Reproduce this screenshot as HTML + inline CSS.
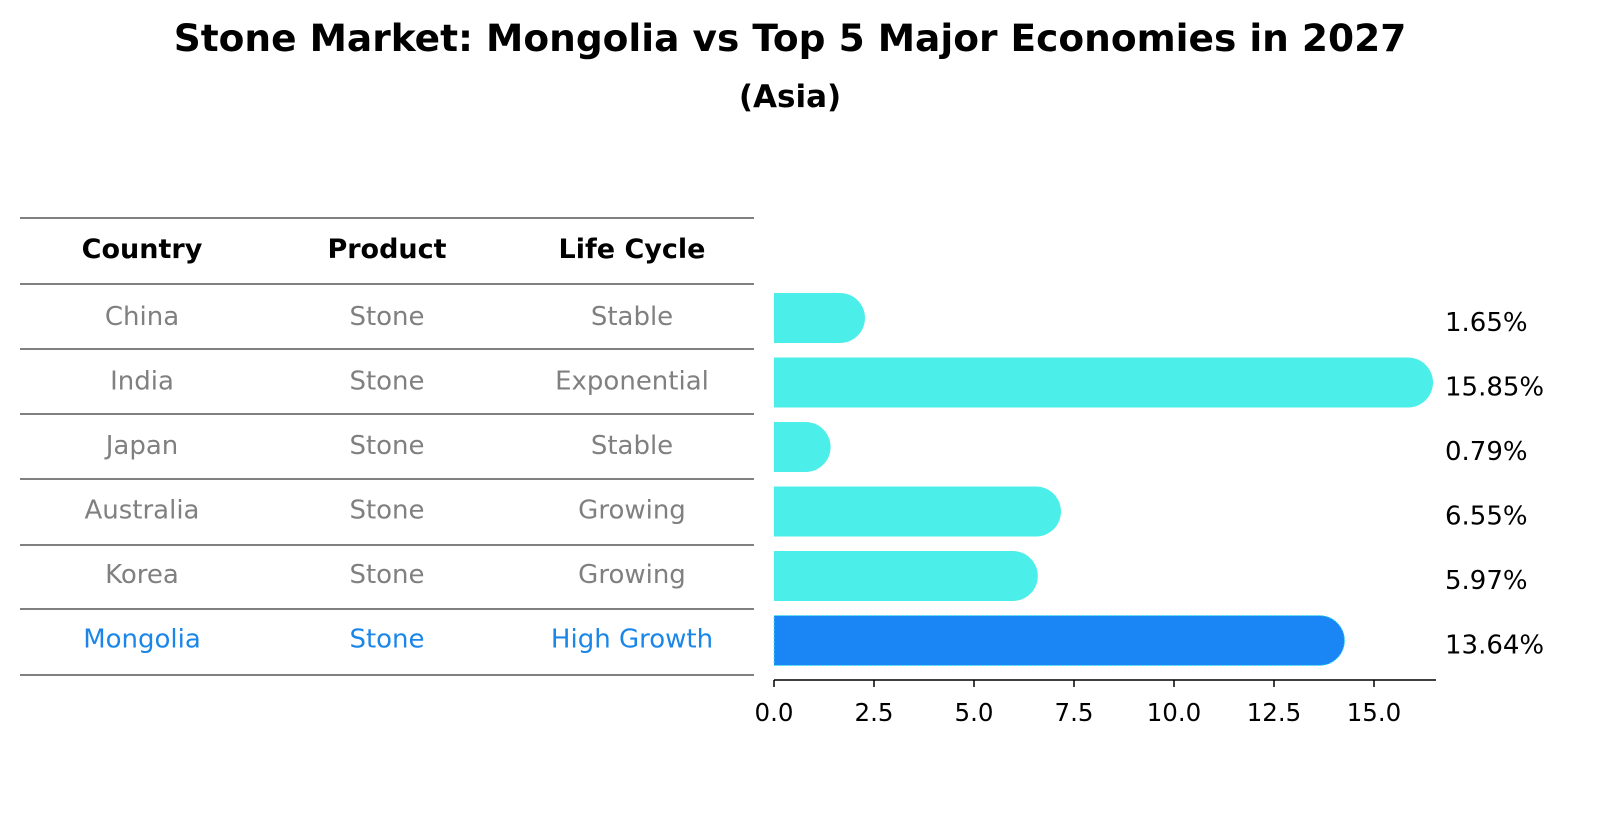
<!DOCTYPE html>
<html><head><meta charset="utf-8"><style>
body{margin:0;background:#fff;font-family:"DejaVu Sans","Liberation Sans",sans-serif;}
svg text{font-family:"DejaVu Sans","Liberation Sans",sans-serif;}
</style></head><body>
<svg id="c" width="1604" height="823" xmlns="http://www.w3.org/2000/svg">
<text x="790" y="51" text-anchor="middle" font-size="37.5" font-weight="bold">Stone Market: Mongolia vs Top 5 Major Economies in 2027</text>
<text x="790" y="107" text-anchor="middle" font-size="31" font-weight="bold">(Asia)</text>
<g id="tbl"></g>
<g id="bars"></g>
</svg>
<script>
const countries=["China","India","Japan","Australia","Korea","Mongolia"];
const products=["Stone","Stone","Stone","Stone","Stone","Stone"];
const lifecycle=["Stable","Exponential","Stable","Growing","Growing","High Growth"];
const values=[1.65,15.85,0.79,6.55,5.97,13.64];
const ticks=[0,2.5,5,7.5,10,12.5,15];
const NS="http://www.w3.org/2000/svg";
const tbl=document.getElementById('tbl'),bars=document.getElementById('bars');
function mk(t,a,p,txt){const e=document.createElementNS(NS,t);for(const k in a)e.setAttribute(k,a[k]);if(txt!==undefined)e.textContent=txt;p.appendChild(e);return e;}
const x=v=>774+v*40;
const rowY=i=>316+i*64.5;
const lines=[218,284,349,414,479,545,609,675];
lines.forEach(ly=>{const l=mk('line',{x1:20,x2:754,y1:ly,y2:ly,stroke:'#000','stroke-width':1},tbl);

});
const cols=[142,387,632];
["Country","Product","Life Cycle"].forEach((h,j)=>{const t=mk('text',{x:cols[j],y:258,'text-anchor':'middle','font-size':27,'font-weight':'bold'},tbl,h);

});
countries.forEach((c,i)=>{const col=c==="Mongolia"?'#1a86e8':'#808080';
[c,products[i],lifecycle[i]].forEach((v,j)=>{const t=mk('text',{x:cols[j],y:rowY(i)+9,'text-anchor':'middle','font-size':26,fill:col},tbl,v);

});
const cy=rowY(i)+2,h=50,r=25;const x0=x(0),x1=x(values[i]);
const fill=c==="Mongolia"?'#1a86f6':'#4ceee9';
const p=mk('path',{d:`M${x0},${cy-h/2} H${x1} A${r},${r} 0 0 1 ${x1},${cy+h/2} H${x0} Z`,fill:fill},bars);


if(c==="Mongolia"){p.setAttribute('stroke','#4ceee9');p.setAttribute('stroke-dasharray','2 2');p.setAttribute('stroke-width','1');}
const lb=mk('text',{x:1445,y:cy+13,'font-size':26},bars,values[i].toFixed(2)+'%');


});
const ax=mk('line',{x1:774,x2:1436,y1:680,y2:680,stroke:'#000','stroke-width':1.5},bars);


ticks.forEach(t=>{const l=mk('line',{x1:x(t),x2:x(t),y1:680,y2:687,stroke:'#000','stroke-width':1.5},bars);


const tx=mk('text',{x:x(t),y:721,'text-anchor':'middle','font-size':24.5},bars,t.toFixed(1));

});
</script>
</body></html>
